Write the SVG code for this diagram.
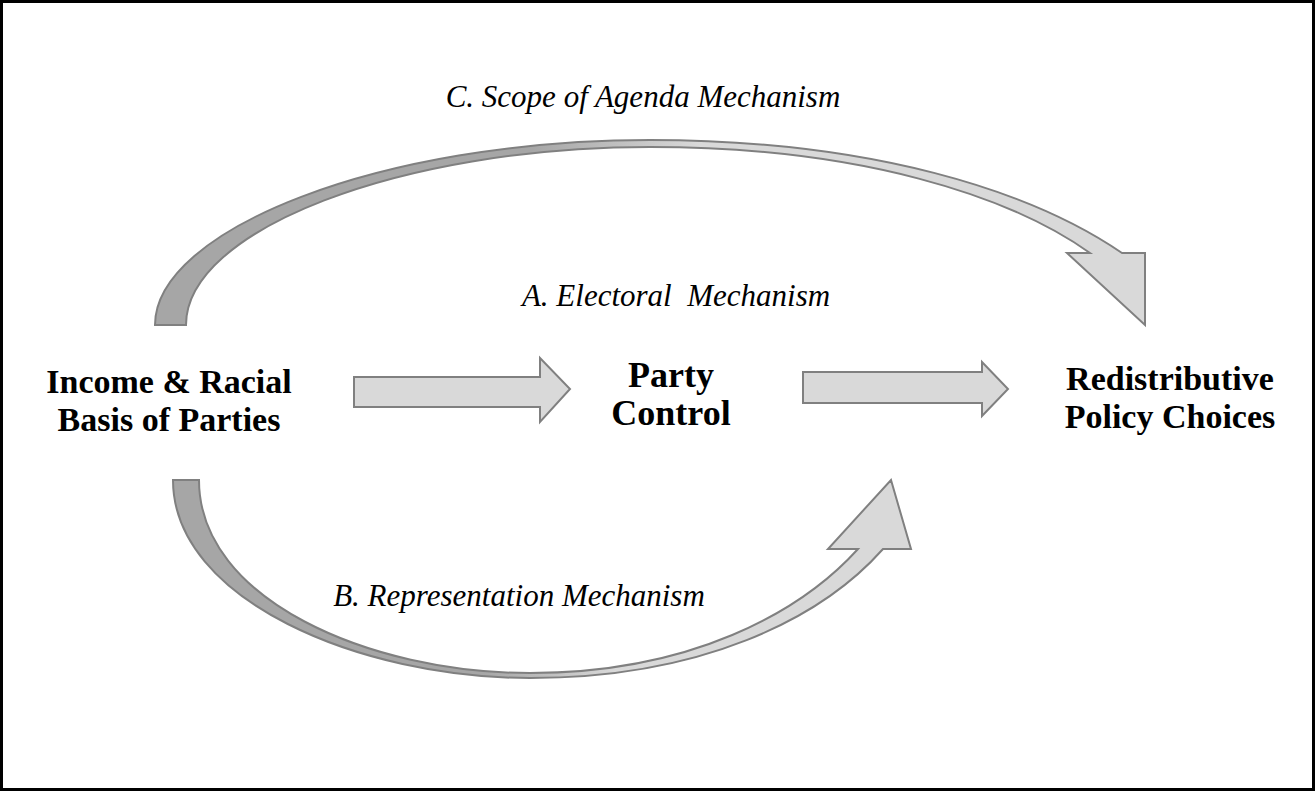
<svg xmlns="http://www.w3.org/2000/svg" width="1315" height="791" viewBox="0 0 1315 791">
<style>
.node{font-family:"Liberation Serif","Times New Roman",serif;font-weight:bold;font-size:34px;fill:#000;text-anchor:middle}
.big{font-size:36px}
.lbl{font-family:"Liberation Serif","Times New Roman",serif;font-style:italic;font-size:31px;fill:#000;text-anchor:middle}
.arr{stroke:#808080;stroke-width:2;stroke-linejoin:miter}
</style>
<defs>
<linearGradient id="gTop" gradientUnits="userSpaceOnUse" x1="155" y1="0" x2="1145" y2="0">
<stop offset="0" stop-color="#a6a6a6"/><stop offset="0.38" stop-color="#a6a6a6"/><stop offset="0.55" stop-color="#d9d9d9"/><stop offset="1" stop-color="#d9d9d9"/>
</linearGradient>
<linearGradient id="gBot" gradientUnits="userSpaceOnUse" x1="173" y1="0" x2="911" y2="0">
<stop offset="0" stop-color="#a6a6a6"/><stop offset="0.42" stop-color="#a6a6a6"/><stop offset="0.6" stop-color="#d9d9d9"/><stop offset="1" stop-color="#d9d9d9"/>
</linearGradient>
</defs>
<rect x="0" y="0" width="1315" height="791" fill="#fff"/>
<rect x="1.5" y="1.5" width="1312" height="788" fill="none" stroke="#000" stroke-width="3"/>
<g id="connectors">
<path class="arr" fill="url(#gTop)" d="M155,325 C155,230 380,140 650,140 C870,140 1030,190 1122,253 L1145,253 L1145,325 L1067,253 L1090,253 C1010,196 860,147 650,147 C400,147 186,230 186,325 Z"/>
<path class="arr" fill="url(#gBot)" d="M173,480 C173,600 360,678 530,678 C700,678 820,620 883,549 L911,549 L891,480 L828,549 L858,549 C800,613 690,673 530,673 C370,673 199,600 199,480 Z"/>
<path class="arr" fill="#d9d9d9" d="M354,377 L540,377 L540,358 L570,389 L540,422 L540,407 L354,407 Z"/>
<path class="arr" fill="#d9d9d9" d="M803,372 L982,372 L982,362 L1008,389 L982,416 L982,403 L803,403 Z"/>
</g>
<g id="label-c"><text class="lbl" x="643" y="107">C. Scope of Agenda Mechanism</text></g>
<g id="label-a"><text class="lbl" x="676" y="306" xml:space="preserve">A. Electoral  Mechanism</text></g>
<g id="label-b"><text class="lbl" x="519" y="606">B. Representation Mechanism</text></g>
<g id="node-income"><text class="node" x="169" y="393">Income &amp; Racial</text><text class="node" x="169" y="431">Basis of Parties</text></g>
<g id="node-party"><text class="node big" x="671" y="387">Party</text><text class="node big" x="671" y="425">Control</text></g>
<g id="node-redist"><text class="node" x="1170" y="390">Redistributive</text><text class="node" x="1170" y="428">Policy Choices</text></g>
</svg>
